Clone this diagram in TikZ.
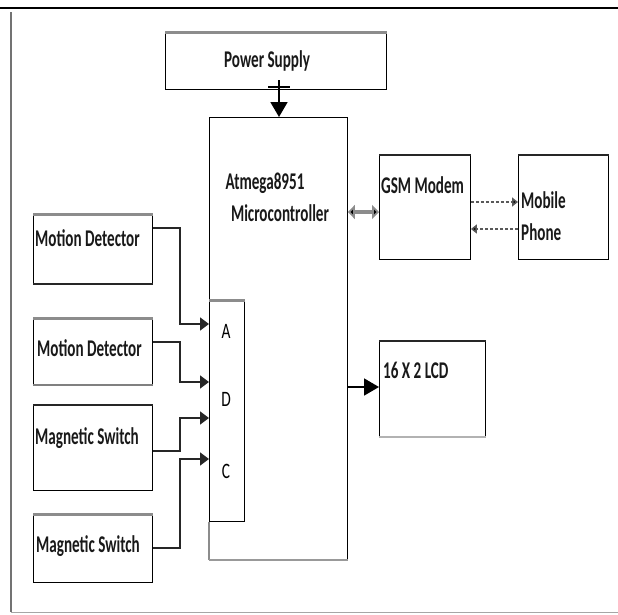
\documentclass[tikz,border=0pt]{standalone}
\usepackage{fontspec}
\setmainfont{Carlito}[FakeStretch=0.63]
\newfontfamily\pinfont{Carlito}[FakeStretch=0.7]
\usetikzlibrary{arrows.meta}
\begin{document}
\begin{tikzpicture}[x=1pt,y=-1pt,
  box/.style={draw=black,line width=0.9pt,fill=white,inner sep=0pt,anchor=north west},
  topgray/.style={line width=3pt,draw=black!45},
  topblack/.style={line width=2.6pt,draw=black!85},
  lbl/.style={font=\fontsize{24}{24}\selectfont\bfseries,inner sep=0pt,anchor=west,text=black!90},
  pin/.style={font=\pinfont\fontsize{22}{22}\selectfont,inner sep=0pt},
  wire/.style={line width=1.8pt,draw=black!85,-{Triangle[length=9pt,width=13pt]}},
  dotarrow/.style={line width=1.8pt,draw=black!65,dash pattern=on 3pt off 2pt,-{Triangle[length=6pt,width=9pt,fill=black]}},
  bigarrow/.style={line width=1.8pt,draw=black,-{Triangle[length=15pt,width=17pt]}},
]
\useasboundingbox (0,0) rectangle (618,614);
% frame
\draw[line width=2.2pt] (0,8) -- (618,8);
\draw[line width=1.4pt,draw=black!55] (11,12) -- (11,612);
\draw[line width=1pt,draw=black!35] (11,612) -- (618,612);

% boxes
\node[box,minimum width=221pt,minimum height=57pt] (ps) at (165,32) {};
\draw[topgray] (ps.north west) -- (ps.north east);
\node[box,minimum width=138pt,minimum height=442pt] (mcu) at (209,117) {};
\node[box,minimum width=35pt,minimum height=221pt] (adc) at (209,300) {};
\draw[topgray] (adc.north west) -- (adc.north east);
\draw[line width=2.6pt,draw=black!45] (adc.south west) -- (mcu.south west);
\draw[line width=2.6pt,draw=black!40] (mcu.south west) -- (mcu.south east);

\node[box,minimum width=91pt,minimum height=104pt] (gsm) at (379,155) {};
\draw[topblack] (gsm.north west) -- (gsm.north east);
\node[box,minimum width=90pt,minimum height=104pt] (mob) at (518,155) {};
\draw[topblack] (mob.north west) -- (mob.north east);
\node[box,minimum width=106pt,minimum height=95pt] (lcd) at (379,341) {};
\draw[topblack] (lcd.north west) -- (lcd.north east);
\draw[line width=2pt,draw=black!30] (lcd.south west) -- (lcd.south east);

\node[box,minimum width=119pt,minimum height=69pt] (md1) at (33,214) {};
\draw[topgray] (md1.north west) -- (md1.north east);
\draw[line width=2.4pt,draw=black!85] (md1.south west) -- (md1.south east);
\node[box,minimum width=119pt,minimum height=66pt] (md2) at (33,318) {};
\draw[topgray] (md2.north west) -- (md2.north east);
\draw[line width=2.4pt,draw=black!50] (md2.south west) -- (md2.south east);
\node[box,minimum width=119pt,minimum height=85pt] (ms1) at (33,405) {};
\draw[topblack] (ms1.north west) -- (ms1.north east);
\node[box,minimum width=119pt,minimum height=68pt] (ms2) at (33,514) {};
\draw[topgray] (ms2.north west) -- (ms2.north east);

% texts
\node[lbl,anchor=center] (tps) at (267,61) {Power Supply};
\node[lbl,anchor=center] (tmcu1) at (265,183) {Atmega8951};
\node[lbl,anchor=center] (tmcu2) at (280,213) {Microcontroller};
\node[lbl] (tgsm) at (381,185) {GSM Modem};
\node[lbl] (tmob1) at (521,200) {Mobile};
\node[lbl] (tmob2) at (521,232) {Phone};
\node[lbl] (tlcd) at (383,370) {16 X 2 LCD};
\node[lbl] (tmd1) at (35,238) {Motion Detector};
\node[lbl] (tmd2) at (37,348) {Motion Detector};
\node[lbl] (tms1) at (35,438) {Magnetic Switch};
\node[lbl] (tms2) at (36,546) {Magnetic Switch};
\node[pin] (pa) at (226,331) {A};
\node[pin] (pd) at (226,399) {D};
\node[pin] (pc) at (226,471) {C};

% coordinates
\coordinate (psout) at (279,80);
\coordinate (oMD1) at (md1.east |- 0,228);
\coordinate (oMD2) at (md2.east |- 0,342);
\coordinate (oMS1) at (ms1.east |- 0,451);
\coordinate (oMS2) at (ms2.east |- 0,548);
\coordinate (iA) at (adc.west |- 0,324);
\coordinate (iD) at (adc.west |- 0,382);
\coordinate (iM1) at (adc.west |- 0,418);
\coordinate (iM2) at (adc.west |- 0,459);

% connectors
\draw[bigarrow] (psout) -- (mcu.north -| psout);
\draw[line width=1.4pt] (268,87) -- (290,87);
\draw[wire] (oMD1) -- (180,228) |- (iA);
\draw[wire] (oMD2) -- (180,342) |- (iD);
\draw[wire] (oMS1) -- (180,451) |- (iM1);
\draw[wire] (oMS2) -- (180,548) |- (iM2);
\draw[line width=4.5pt,draw=black!45,{Triangle[length=7pt,width=14pt,fill=black]}-{Triangle[length=7pt,width=14pt,fill=black]}] (mcu.east |- 0,212) -- (gsm.west |- 0,212);
\draw[dotarrow] (gsm.east |- 0,202) -- (mob.west |- 0,202);
\draw[dotarrow] (mob.west |- 0,229) -- (gsm.east |- 0,229);
\draw[bigarrow] (mcu.east |- 0,387) -- (lcd.west |- 0,387);
\end{tikzpicture}
\end{document}
